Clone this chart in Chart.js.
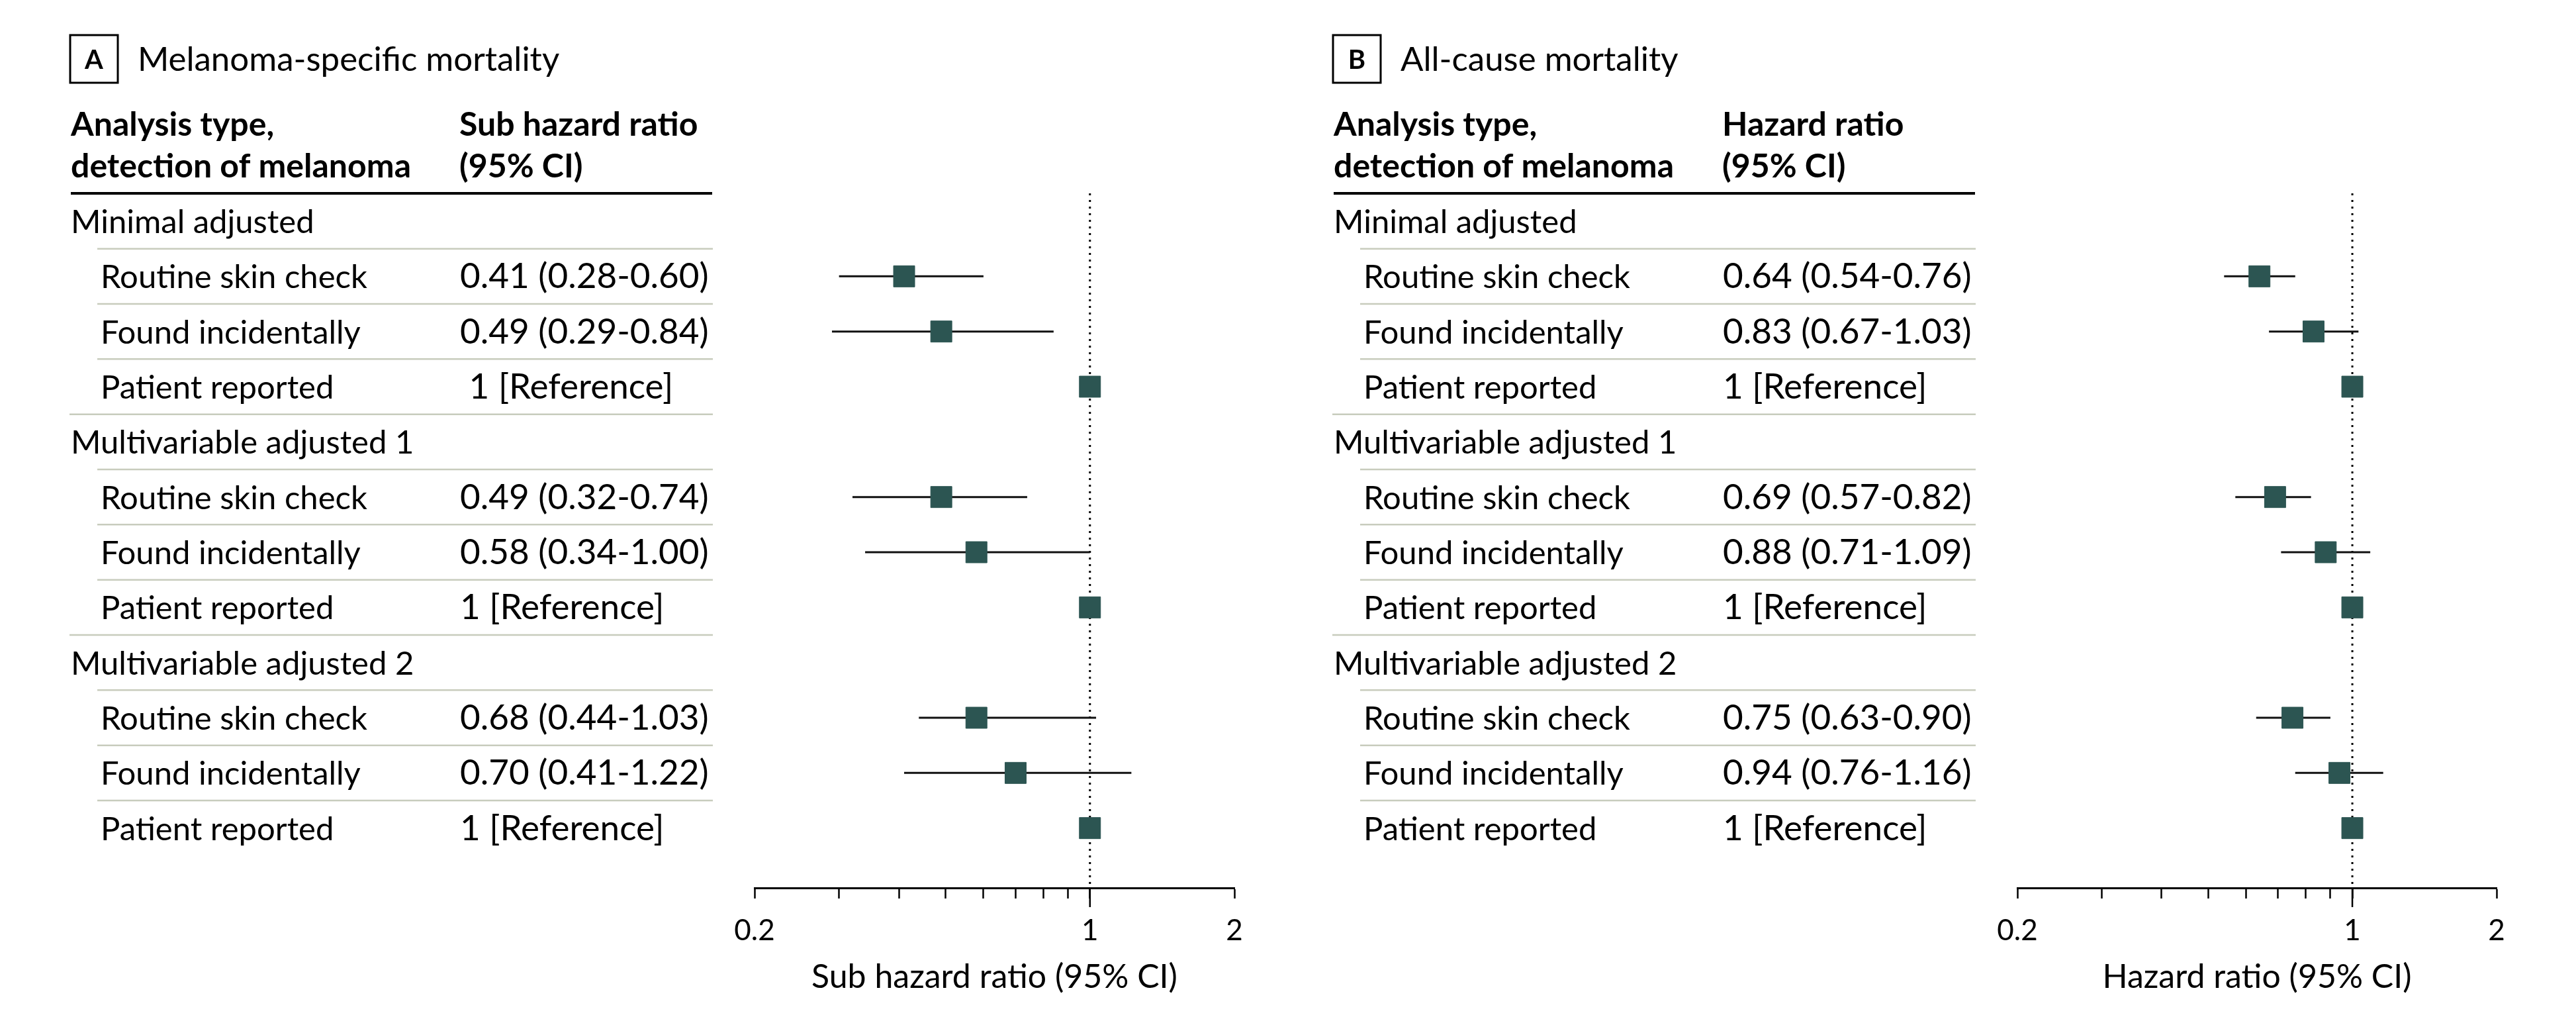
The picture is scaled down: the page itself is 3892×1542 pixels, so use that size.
<!DOCTYPE html>
<html>
<head>
<meta charset="utf-8">
<script src="https://cdn.jsdelivr.net/npm/chart.js@4.4.0/dist/chart.umd.min.js"></script>
<style>
  body { margin: 0; background: #fff; }
  .wrap { position: relative; width: 3892px; height: 1542px; }
  canvas { position: absolute; left: 0; top: 0; }
</style>
</head>
<body>
<div class="wrap">
  <canvas id="panelA" width="3892" height="1542"></canvas>
  <canvas id="panelB" width="3892" height="1542"></canvas>
</div>
<script>
const groups = ['Minimal adjusted', 'Multivariable adjusted 1', 'Multivariable adjusted 2'];
const detections = ['Routine skin check', 'Found incidentally', 'Patient reported'];

// panel A: sub hazard ratios as plotted in the figure (melanoma-specific mortality)
const shrA = [0.41, 0.49, 1, 0.49, 0.58, 1, 0.58, 0.70, 1];
const lowA = [0.30, 0.29, null, 0.32, 0.34, null, 0.44, 0.41, null];
const highA = [0.60, 0.84, null, 0.74, 1.00, null, 1.03, 1.22, null];
const textA = ['0.41 (0.28-0.60)', '0.49 (0.29-0.84)', ' 1 [Reference]',
               '0.49 (0.32-0.74)', '0.58 (0.34-1.00)', '1 [Reference]',
               '0.68 (0.44-1.03)', '0.70 (0.41-1.22)', '1 [Reference]'];

// panel B: hazard ratios (all-cause mortality)
const hrB = [0.64, 0.83, 1, 0.69, 0.88, 1, 0.75, 0.94, 1];
const lowB = [0.54, 0.67, null, 0.57, 0.71, null, 0.63, 0.76, null];
const highB = [0.76, 1.03, null, 0.82, 1.09, null, 0.90, 1.16, null];
const textB = ['0.64 (0.54-0.76)', '0.83 (0.67-1.03)', '1 [Reference]',
               '0.69 (0.57-0.82)', '0.88 (0.71-1.09)', '1 [Reference]',
               '0.75 (0.63-0.90)', '0.94 (0.76-1.16)', '1 [Reference]'];

const xTicks = [0.2, 0.3, 0.4, 0.5, 0.6, 0.7, 0.8, 0.9, 1, 2];
const xTickLabels = ['0.2', '1', '2'];

const markerColor = 'rgb(44, 85, 82)';
const ruleColor = 'rgb(200, 204, 189)';

Chart.defaults.font.family = 'Lato';
Chart.defaults.color = '#000';

// row index in the table: group header, then three detection rows
function rowOf(k) {
  return Math.floor(k / 3) * 4 + 1 + (k % 3);
}

const tablePlugin = {
  id: 'forestTable',
  afterDraw(chart, args, opts) {
    const ctx = chart.ctx;
    const ys = chart.scales.y;
    const xs = chart.scales.x;
    const dx = opts.dx;
    ctx.save();
    ctx.fillStyle = '#000';
    ctx.strokeStyle = '#000';

    // panel letter and title
    ctx.lineWidth = 3;
    ctx.strokeRect(dx + 106, 53, 72, 72);
    ctx.font = 'bold 40px Lato';
    ctx.textAlign = 'center';
    ctx.textBaseline = 'alphabetic';
    ctx.fillText(opts.letter, dx + 142, 104);
    ctx.textAlign = 'left';
    ctx.font = '51px Lato';
    ctx.fillText(opts.title, dx + 208, 107);

    // column headers
    ctx.font = 'bold 50px Lato';
    ctx.fillText('Analysis type,', dx + 107, 205);
    ctx.fillText('detection of melanoma', dx + 107, 268);
    ctx.fillText(opts.ratioHead, dx + 694, 205);
    ctx.fillText('(95% CI)', dx + 694, 268);
    ctx.fillRect(dx + 107, 290, 969, 4);

    // rows
    ctx.font = '49px Lato';
    groups.forEach((g, gi) => {
      ctx.fillText(g, dx + 107, ys.getPixelForValue(gi * 4) + 18);
    });
    opts.values.forEach((txt, k) => {
      const py = ys.getPixelForValue(rowOf(k)) + 18;
      ctx.font = '49px Lato';
      ctx.fillText(detections[k % 3], dx + 152, py);
      ctx.font = '53px Lato';
      ctx.fillText(txt, dx + 695, py);
    });

    // separators
    ctx.strokeStyle = ruleColor;
    ctx.lineWidth = 2.5;
    for (let r = 0; r < 11; r++) {
      const py = (ys.getPixelForValue(r) + ys.getPixelForValue(r + 1)) / 2;
      const x0 = (r % 4 === 3) ? dx + 105 : dx + 147;
      ctx.beginPath();
      ctx.moveTo(x0, py);
      ctx.lineTo(dx + 1077, py);
      ctx.stroke();
    }

    // longer tick at 1
    const px1 = xs.getPixelForValue(1);
    ctx.strokeStyle = '#000';
    ctx.lineWidth = 2.5;
    ctx.beginPath();
    ctx.moveTo(px1, chart.chartArea.bottom);
    ctx.lineTo(px1, chart.chartArea.bottom + 29);
    ctx.stroke();
    ctx.restore();
  }
};

function makePanel(id, est, low, high, values, opts) {
  const datasets = [];
  datasets.push({
    data: est.map((v, k) => ({ x: v, y: rowOf(k) })),
    pointStyle: 'rect',
    pointRadius: 22.6,
    backgroundColor: markerColor,
    borderColor: markerColor,
    borderWidth: 1,
    showLine: false
  });
  est.forEach((v, k) => {
    if (low[k] == null) return;
    datasets.push({
      data: [{ x: low[k], y: rowOf(k) }, { x: high[k], y: rowOf(k) }],
      showLine: true,
      borderColor: '#111',
      borderWidth: 3,
      pointRadius: 0
    });
  });
  datasets.push({
    data: [{ x: 1, y: -0.504 }, { x: 1, y: 12.084 }],
    showLine: true,
    borderColor: '#000',
    borderWidth: 3,
    borderDash: [3, 7],
    pointRadius: 0
  });

  return new Chart(document.getElementById(id), {
    type: 'scatter',
    data: { datasets: datasets },
    plugins: [tablePlugin],
    options: {
      responsive: false,
      animation: false,
      events: [],
      layout: { padding: { left: opts.left, right: opts.right, top: 292, bottom: 0 } },
      scales: {
        x: {
          type: 'logarithmic',
          position: 'bottom',
          min: 0.2,
          max: 2,
          afterBuildTicks: (scale) => {
            scale.ticks = xTicks.map(v => ({ value: v }));
          },
          afterFit: (scale) => {
            scale.height = 201;
          },
          ticks: {
            autoSkip: false,
            maxRotation: 0,
            padding: 22,
            font: { size: 44 },
            color: '#000',
            callback: (v) => xTickLabels.includes(String(v)) ? String(v) : ''
          },
          grid: {
            drawOnChartArea: false,
            drawTicks: true,
            tickLength: 16,
            tickWidth: 2.5,
            tickColor: '#000'
          },
          border: { display: true, color: '#000', width: 3 },
          title: {
            display: true,
            text: opts.axisTitle,
            font: { size: 50 },
            color: '#000',
            padding: { top: 0, bottom: 36 }
          }
        },
        y: {
          type: 'linear',
          display: false,
          reverse: true,
          min: -0.504,
          max: 12.084
        }
      },
      plugins: {
        legend: { display: false },
        tooltip: { enabled: false },
        forestTable: {
          dx: opts.dx,
          letter: opts.letter,
          title: opts.title,
          ratioHead: opts.ratioHead,
          values: values
        }
      }
    }
  });
}

makePanel('panelA', shrA, lowA, highA, textA, {
  dx: 0, left: 1140, right: 3892 - 1865, letter: 'A',
  title: 'Melanoma-specific mortality', ratioHead: 'Sub hazard ratio',
  axisTitle: 'Sub hazard ratio (95% CI)'
});
makePanel('panelB', hrB, lowB, highB, textB, {
  dx: 1908, left: 3048, right: 3892 - 3772, letter: 'B',
  title: 'All-cause mortality', ratioHead: 'Hazard ratio',
  axisTitle: 'Hazard ratio (95% CI)'
});
</script>
</body>
</html>
